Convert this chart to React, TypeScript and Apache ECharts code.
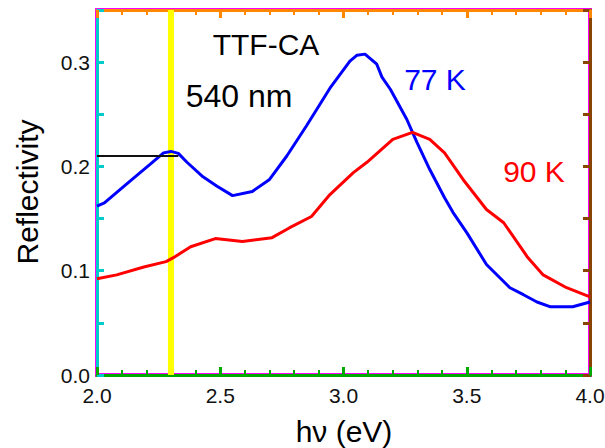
import React, { useEffect, useRef } from "react";
import * as echarts from "echarts";

const blue77K: number[][] = [
  [2.0, 0.162], [2.03, 0.165], [2.134, 0.186], [2.215, 0.202], [2.27, 0.213],
  [2.30, 0.2144], [2.33, 0.2125], [2.365, 0.204], [2.43, 0.190], [2.487, 0.181],
  [2.55, 0.172], [2.63, 0.176], [2.70, 0.1875], [2.77, 0.21], [2.85, 0.239],
  [2.945, 0.275], [3.026, 0.301], [3.055, 0.3067], [3.087, 0.3077], [3.135, 0.298],
  [3.156, 0.2856], [3.19, 0.274], [3.257, 0.245], [3.298, 0.223], [3.35, 0.197],
  [3.41, 0.170], [3.444, 0.156], [3.50, 0.1365], [3.58, 0.106], [3.675, 0.0837],
  [3.73, 0.077], [3.785, 0.070], [3.84, 0.0654], [3.93, 0.0654], [4.0, 0.070],
];

const red90K: number[][] = [
  [2.0, 0.0923], [2.08, 0.096], [2.19, 0.1036], [2.28, 0.1087], [2.31, 0.1125],
  [2.38, 0.123], [2.48, 0.1308], [2.59, 0.128], [2.71, 0.1317], [2.78, 0.141],
  [2.87, 0.152], [2.945, 0.173], [3.04, 0.194], [3.095, 0.204], [3.20, 0.226],
  [3.28, 0.2327], [3.35, 0.226], [3.41, 0.213], [3.485, 0.1875], [3.58, 0.1587],
  [3.65, 0.146], [3.745, 0.1135], [3.81, 0.096], [3.905, 0.0837], [4.0, 0.075],
];

const yellowLine: number[][] = [[2.3, 0], [2.3, 0.35]];
const blackLine: number[][] = [[2.0, 0.21], [2.33, 0.21]];

const xMin = 2.0, xMax = 4.0, xInterval = 0.5;
const yMin = 0, yMax = 0.35, yInterval = 0.05;

const FONT = "Arial";

export default function App() {
  const ref = useRef<HTMLDivElement>(null);
  useEffect(() => {
    if (!ref.current) return;
    const chart = echarts.init(ref.current, null, { renderer: "svg" });
    const yLabel = (v: number) => {
      const t = v * 10;
      return Math.abs(t - Math.round(t)) < 1e-6 ? v.toFixed(1) : "";
    };
    const option: any = {
      animation: false,
      backgroundColor: "#ffffff",
      grid: {
        left: 97, right: 15, top: 10, bottom: 73, outerBoundsMode: "none",
        show: true, borderColor: "#ff00ff", borderWidth: 4,
      },
      xAxis: [
        {
          type: "value", position: "bottom", min: xMin, max: xMax, interval: xInterval,
          axisLine: { show: true, onZero: false, lineStyle: { color: "#00aa00", width: 3 } },
          axisTick: { show: true, inside: true, length: 8, lineStyle: { color: "#00aa00", width: 3 } },
          minorTick: { show: true, splitNumber: 5, length: 5, lineStyle: { color: "#00aa00", width: 2 } },
          splitLine: { show: false },
          axisLabel: { margin: 10, fontSize: 21, color: "#111111", fontFamily: FONT, formatter: (v: number) => v.toFixed(1) },
        },
        {
          type: "value", position: "top", min: xMin, max: xMax, interval: xInterval,
          axisLine: { show: true, onZero: false, lineStyle: { color: "#ff8800", width: 3 } },
          axisTick: { show: true, inside: true, length: 8, lineStyle: { color: "#ff8800", width: 3 } },
          minorTick: { show: true, splitNumber: 5, length: 5, lineStyle: { color: "#ff8800", width: 2 } },
          splitLine: { show: false },
          axisLabel: { show: false },
        },
      ],
      yAxis: [
        {
          type: "value", position: "left", min: yMin, max: yMax, interval: yInterval,
          axisLine: { show: true, onZero: false, lineStyle: { color: "#00cccc", width: 3 } },
          axisTick: { show: true, inside: true, length: 7, lineStyle: { color: "#00cccc", width: 3 } },
          splitLine: { show: false },
          axisLabel: { margin: 7, fontSize: 21, color: "#111111", fontFamily: FONT, formatter: yLabel },
        },
        {
          type: "value", position: "right", min: yMin, max: yMax, interval: yInterval,
          axisLine: { show: true, onZero: false, lineStyle: { color: "#884400", width: 3 } },
          axisTick: { show: true, inside: true, length: 7, lineStyle: { color: "#884400", width: 3 } },
          splitLine: { show: false },
          axisLabel: { show: false },
        },
      ],
      series: [
        { type: "line", data: yellowLine, symbol: "none", lineStyle: { color: "#ffff00", width: 6 } },
        { name: "77 K", type: "line", data: blue77K, symbol: "none", lineStyle: { color: "#0000ff", width: 3 } },
        { name: "90 K", type: "line", data: red90K, symbol: "none", lineStyle: { color: "#ff0000", width: 3 } },
        { type: "line", data: blackLine, symbol: "none", lineStyle: { color: "#111111", width: 2 } },
      ],
      graphic: [
        { type: "text", x: 266, y: 44, style: { text: "TTF-CA", fill: "#000", font: `30px ${FONT}`, textAlign: "center", textVerticalAlign: "middle" } },
        { type: "text", x: 239, y: 96, style: { text: "540 nm", fill: "#000", font: `32px ${FONT}`, textAlign: "center", textVerticalAlign: "middle" } },
        { type: "text", x: 435, y: 79, style: { text: "77 K", fill: "#0000ff", font: `30px ${FONT}`, textAlign: "center", textVerticalAlign: "middle" } },
        { type: "text", x: 534, y: 171, style: { text: "90 K", fill: "#ff0000", font: `30px ${FONT}`, textAlign: "center", textVerticalAlign: "middle" } },
        { type: "text", x: 344, y: 431, style: { text: "hν (eV)", fill: "#000", font: `30px ${FONT}`, textAlign: "center", textVerticalAlign: "middle" } },
        { type: "text", x: 27, y: 192, rotation: Math.PI / 2, style: { text: "Reflectivity", fill: "#000", font: `30px ${FONT}`, textAlign: "center", textVerticalAlign: "middle" } },
      ],
    };
    chart.setOption(option);
    return () => chart.dispose();
  }, []);
  return <div ref={ref} style={{ width: 605, height: 448, position: "absolute", left: 0, top: 0 }} />;
}
